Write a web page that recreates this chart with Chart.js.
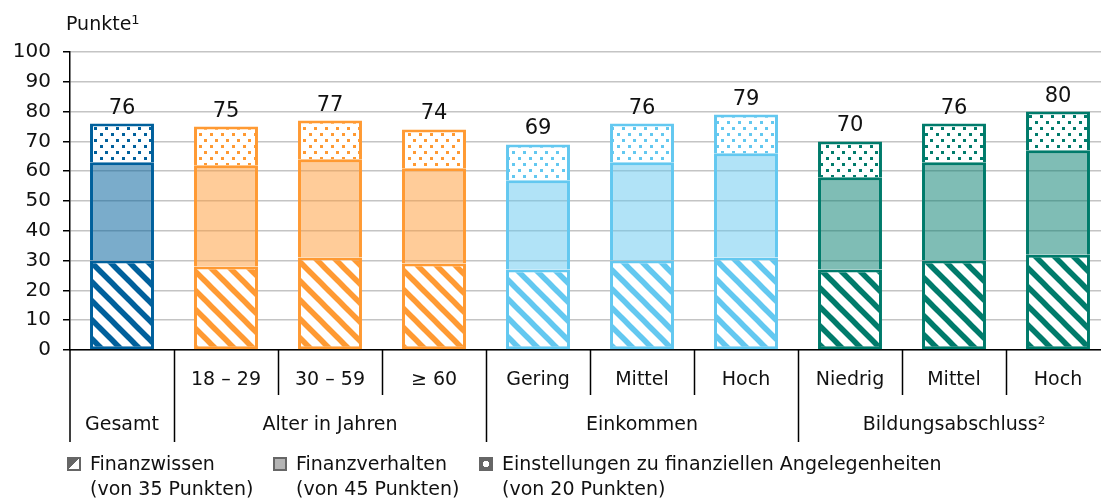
<!doctype html>
<html>
  <head>
    <meta charset="utf-8">
    <title>Finanzkompetenz Punkte</title>
    <script src="https://cdn.jsdelivr.net/npm/chart.js@4.4.1/dist/chart.umd.min.js"></script>
    <style>
    body { margin: 0; overflow: hidden; background: #fff; font-family: "DejaVu Sans", sans-serif; color: #111; }
    #wrap { position: relative; width: 1101px; height: 500px; overflow: hidden; }
    #chart { position: absolute; left: 0; top: 0; }
    .unit { position: absolute; left: 66px; top: 12px; font-size: 19px; }
    .unit sup { font-size: 13px; vertical-align: 6px; }
    .leg { position: absolute; top: 451px; font-size: 19px; line-height: 25px; white-space: nowrap; }
    .leg .box { position: absolute; left: -23px; top: 6px; width: 10px; height: 10px; border: 2px solid #666; }
    </style>
  </head>
  <body>
    <div id="wrap">
      <canvas id="chart" width="1112" height="500"></canvas>
      <div class="unit">Punkte<sup>1</sup></div>
      <div class="leg" style="left:90px"><span class="box" style="background:linear-gradient(135deg,#666 50%,#fff 50%)"></span>Finanzwissen<br>(von 35 Punkten)</div>
      <div class="leg" style="left:296px"><span class="box" style="background:#b4b4b4"></span>Finanzverhalten<br>(von 45 Punkten)</div>
      <div class="leg" style="left:502px"><span class="box" style="background:radial-gradient(#fff 45%,#666 50%)"></span>Einstellungen zu finanziellen Angelegenheiten<br>(von 20 Punkten)</div>
    </div>

    <script>
    // Werte
    var categories = ['Gesamt', '18 – 29', '30 – 59', '≥ 60', 'Gering', 'Mittel', 'Hoch', 'Niedrig', 'Mittel', 'Hoch'];
    var subLabels = ['', '18 – 29', '30 – 59', '≥ 60', 'Gering', 'Mittel', 'Hoch', 'Niedrig', 'Mittel', 'Hoch'];
    var groupLabels = ['Gesamt', 'Alter in Jahren', 'Einkommen', 'Bildungsabschluss²'];
    var groupStart = [0, 1, 4, 7];
    var groupEnd = [0, 3, 6, 9];
    var finanzwissen = [30, 28, 31, 29, 27, 30, 31, 27, 30, 32];
    var finanzverhalten = [33, 34, 33, 32, 30, 33, 35, 31, 33, 35];
    var einstellungen = [13, 13, 13, 13, 12, 13, 13, 12, 13, 13];
    var totals = [76, 75, 77, 74, 69, 76, 79, 70, 76, 80];
    var yTicks = [0, 10, 20, 30, 40, 50, 60, 70, 80, 90, 100];

    var groupColor = ['#00609c', '#ff9a33', '#ff9a33', '#ff9a33', '#63c8f0', '#63c8f0', '#63c8f0', '#007b6b', '#007b6b', '#007b6b'];
    var groupFill = ['rgba(0,96,156,0.52)', 'rgba(255,154,51,0.5)', 'rgba(255,154,51,0.5)', 'rgba(255,154,51,0.5)',
      'rgba(99,200,240,0.5)', 'rgba(99,200,240,0.5)', 'rgba(99,200,240,0.5)',
      'rgba(0,123,107,0.5)', 'rgba(0,123,107,0.5)', 'rgba(0,123,107,0.5)'];
    var FONT = '"DejaVu Sans", sans-serif';

    function stripes(color) {
      var c = document.createElement('canvas');
      c.width = 19; c.height = 19;
      var g = c.getContext('2d');
      g.fillStyle = '#fff';
      g.fillRect(0, 0, 19, 19);
      g.strokeStyle = color;
      g.lineWidth = 5.5;
      for (var k = -1; k <= 1; k++) {
        g.beginPath();
        g.moveTo(k * 19 - 2, -2);
        g.lineTo(k * 19 + 21, 21);
        g.stroke();
      }
      return g.createPattern(c, 'repeat');
    }

    function dots(color) {
      var c = document.createElement('canvas');
      c.width = 11; c.height = 12;
      var g = c.getContext('2d');
      g.fillStyle = '#fff';
      g.fillRect(0, 0, 11, 12);
      g.fillStyle = color;
      g.fillRect(1, 1, 3, 3);
      g.fillRect(6, 7, 3, 3);
      return g.createPattern(c, 'repeat');
    }

    var stripeFill = groupColor.map(stripes);
    var dotFill = groupColor.map(dots);

    var xLabelsPlugin = {
      id: 'xLabels',
      afterDraw: function(chart) {
        var ctx = chart.ctx;
        var xs = chart.scales.x;
        var area = chart.chartArea;
        var w = (area.right - area.left) / categories.length;
        ctx.save();
        ctx.strokeStyle = '#000';
        ctx.lineWidth = 1.5;
        // y-Achse nach unten verlängern
        ctx.beginPath();
        ctx.moveTo(area.left, area.bottom);
        ctx.lineTo(area.left, 442);
        for (var i = 1; i < categories.length; i++) {
          var bx = Math.round(area.left + i * w) + 0.5;
          var longTick = groupStart.indexOf(i) >= 0;
          ctx.moveTo(bx, area.bottom);
          ctx.lineTo(bx, longTick ? 442 : 395);
        }
        ctx.stroke();
        ctx.fillStyle = '#111';
        ctx.font = '19px ' + FONT;
        ctx.textAlign = 'center';
        ctx.textBaseline = 'middle';
        for (var j = 0; j < subLabels.length; j++) {
          ctx.fillText(subLabels[j], xs.getPixelForValue(j), 380);
        }
        for (var g = 0; g < groupLabels.length; g++) {
          var cx = (xs.getPixelForValue(groupStart[g]) + xs.getPixelForValue(groupEnd[g])) / 2;
          ctx.fillText(groupLabels[g], cx, 425);
        }
        ctx.restore();
      }
    };

    var totalsPlugin = {
      id: 'totals',
      afterDatasetsDraw: function(chart) {
        var ctx = chart.ctx;
        var meta = chart.getDatasetMeta(2);
        ctx.save();
        ctx.fillStyle = '#111';
        ctx.font = '21px ' + FONT;
        ctx.textAlign = 'center';
        ctx.textBaseline = 'alphabetic';
        meta.data.forEach(function(bar, i) {
          ctx.fillText(totals[i], bar.x, bar.y - 10);
        });
        ctx.restore();
      }
    };

    var ctx = document.getElementById('chart');
    var myChart = new Chart(ctx, {
      type: 'bar',
      data: {
        labels: categories,
        datasets: [{
          label: 'Finanzwissen',
          data: finanzwissen,
          backgroundColor: stripeFill,
          borderColor: groupColor,
          borderWidth: 3,
          borderSkipped: false
        }, {
          label: 'Finanzverhalten',
          data: finanzverhalten,
          backgroundColor: groupFill,
          borderColor: groupColor,
          borderWidth: 3,
          borderSkipped: 'bottom'
        }, {
          label: 'Einstellungen zu finanziellen Angelegenheiten',
          data: einstellungen,
          backgroundColor: dotFill,
          borderColor: groupColor,
          borderWidth: 3,
          borderSkipped: 'bottom'
        }]
      },
      options: {
        responsive: false,
        animation: false,
        maintainAspectRatio: false,
        layout: { padding: { top: 52, bottom: 150, left: 0, right: 2 } },
        datasets: { bar: { categoryPercentage: 1, barPercentage: 0.615 } },
        plugins: {
          legend: { display: false },
          tooltip: { enabled: false }
        },
        scales: {
          x: {
            stacked: true,
            grid: { display: false },
            ticks: { display: false },
            border: { display: true, color: '#000', width: 1.5 },
            afterFit: function(scale) { scale.height = 0; }
          },
          y: {
            stacked: true,
            min: 0,
            max: 100,
            afterBuildTicks: function(scale) {
              scale.ticks = yTicks.map(function(v) { return { value: v }; });
            },
            afterFit: function(scale) { scale.width = 70; },
            grid: { color: '#c4c4c4', lineWidth: 1.5, tickColor: '#000', tickLength: 7 },
            border: { display: true, color: '#000', width: 1.5 },
            ticks: { color: '#111', font: { family: FONT, size: 20 }, padding: 12 }
          }
        }
      },
      plugins: [xLabelsPlugin, totalsPlugin]
    });
    </script>
  </body>
</html>
